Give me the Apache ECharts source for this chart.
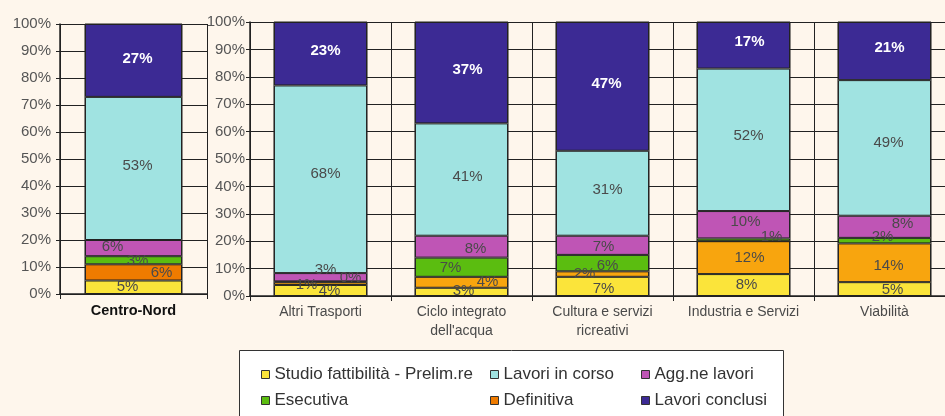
<!DOCTYPE html>
<html>
<head>
<meta charset="UTF-8">
<title>Stato di avanzamento</title>
<script src="https://cdn.jsdelivr.net/npm/echarts@6/dist/echarts.min.js"></script>
<style>
  html, body { margin: 0; padding: 0; background: #fef6ec; }
  #chart { width: 945px; height: 416px; }
</style>
</head>
<body>
<div id="chart"></div>
<script>
// categorie (la prima sta nel pannello di sinistra)
var categoriesLeft = ['Centro-Nord'];
var categoriesRight = ['Altri Trasporti', 'Ciclo integrato\ndell\'acqua', 'Cultura e servizi\nricreativi', 'Industria e Servizi', 'Viabilità'];

var seriesNames = ['Studio fattibilità - Prelim.re', 'Definitiva', 'Esecutiva', 'Agg.ne lavori', 'Lavori in corso', 'Lavori conclusi'];

// valori % (Centro-Nord, Altri Trasporti, Ciclo, Cultura, Industria, Viabilità)
var studio         = [5, 4, 3, 7, 8, 5];
var definitiva     = [6, 1, 4, 2, 12, 14];
var esecutiva      = [3, 0.3, 7, 6, 1, 2];
var aggLavori      = [6, 3, 8, 7, 10, 8];
var lavoriInCorso  = [53, 68, 41, 31, 52, 49];
var lavoriConclusi = [27, 23, 37, 47, 17, 21];

var yTicks = [0, 10, 20, 30, 40, 50, 60, 70, 80, 90, 100];

var raw = [studio, definitiva, esecutiva, aggLavori, lavoriInCorso, lavoriConclusi];

// stile
var colors = ['#fbe43a', '#ef7b00', '#5bbd10', '#bf55b5', '#a0e3e1', '#3c2a94'];
var colorsRight = ['#fbe43a', '#f8a50e', '#5bbd10', '#bf55b5', '#a0e3e1', '#3c2a94'];
// spostamento etichette [dx, dy] come nell'originale
var labelShift = [
  [[-6, 0], [9, 0], [2, -1], [1, 2], [3, 0], [8, 1]],
  [[28, 0], [-14, 1], [26, 0], [-18, 0], [6, 0], [4, 3]],
  [[4, 1], [30, -4], [-11, 1], [5, 3], [28, -3], [-2, -4]],
  [[-21, -1], [5, -7], [14, 2], [1, 2], [2, -3], [18, -3]],
  [[4, -3], [5, -5], [6, -3], [5, -3], [5, -4], [4, -5]],
  [[4, -2], [5, -3], [6, -3], [4, -3], [6, -3], [5, -3]]
];

var totals = studio.map(function (v, i) {
  var s = 0;
  raw.forEach(function (arr) { s += arr[i]; });
  return s;
});

var FONT = 'Liberation Sans';
var txt = '#4a4a4a';
var line = '#222';

function makeData(k, from, to) {
  var out = [];
  for (var i = from; i < to; i++) {
    out.push({
      value: raw[k][i] / totals[i] * 100,
      rawIndex: i,
      label: { offset: labelShift[k][i] }
    });
  }
  return out;
}

var series = [];
[0, 1].forEach(function (g) {
  seriesNames.forEach(function (name, k) {
    var labelStyle = k === 5
      ? { color: '#fff', fontWeight: 'bold', fontSize: 15 }
      : { color: txt, fontSize: 15 };
    var s = {
      name: name,
      type: 'bar',
      stack: g === 0 ? 'L' : 'R',
      xAxisIndex: g,
      yAxisIndex: g,
      barWidth: '66%',
      data: g === 0 ? makeData(k, 0, 1) : makeData(k, 1, 6),
      itemStyle: { color: g === 0 ? colors[k] : colorsRight[k], borderColor: line, borderWidth: 1 },
      label: Object.assign({
        show: true,
        position: 'inside',
        fontFamily: FONT,
        formatter: function (p) {
          return Math.round(raw[k][p.data.rawIndex]) + '%';
        }
      }, labelStyle),
      emphasis: { disabled: true },
      animation: false
    };
    if (k === 0) {
      s.showBackground = true;
      s.backgroundStyle = { color: 'rgba(0,0,0,0)', borderColor: line, borderWidth: 1 };
    }
    series.push(s);
  });
});

function yAxis(g, margin) {
  return {
    type: 'value',
    gridIndex: g,
    min: yTicks[0],
    max: yTicks[yTicks.length - 1],
    interval: 10,
    axisLine: { show: true, lineStyle: { color: line, width: 1.5 } },
    axisTick: { show: true, length: 4, lineStyle: { color: line } },
    axisLabel: { formatter: '{value}%', color: '#555', fontFamily: FONT, fontSize: 15, margin: margin },
    splitLine: { show: true, lineStyle: { color: line, width: 1 } }
  };
}

function xAxis(g, data, labelStyle) {
  return {
    type: 'category',
    gridIndex: g,
    data: data,
    axisLine: { show: true, lineStyle: { color: line, width: 1.5 } },
    axisTick: { show: true, length: 5, interval: 0, lineStyle: { color: line } },
    axisLabel: Object.assign({ interval: 0, fontFamily: FONT, margin: 7, lineHeight: 19 }, labelStyle),
    splitLine: { show: true, interval: 0, lineStyle: { color: line, width: 1 } }
  };
}

var legends = [];
var legendPos = [
  [256, 361], [256, 387],
  [485, 361], [485, 387],
  [636, 361], [636, 387]
];
var legendOrder = [0, 2, 4, 1, 3, 5];
legendOrder.forEach(function (k, j) {
  legends.push({
    data: [seriesNames[k]],
    left: legendPos[j][0],
    top: legendPos[j][1],
    z: 20,
    itemWidth: 8,
    itemHeight: 8,
    icon: 'rect',
    selectedMode: false,
    itemStyle: { color: colors[k], borderColor: '#333', borderWidth: 1 },
    textStyle: { color: '#333', fontFamily: FONT, fontSize: 17 }
  });
});

var option = {
  backgroundColor: '#fef6ec',
  animation: false,
  grid: [
    { left: 60, width: 147, top: 24, bottom: 122, outerBoundsMode: 'none' },
    { left: 250, width: 705, top: 22, bottom: 120, outerBoundsMode: 'none' }
  ],
  xAxis: [
    xAxis(0, categoriesLeft, { color: '#111', fontWeight: 'bold', fontSize: 14.5 }),
    xAxis(1, categoriesRight, { color: txt, fontSize: 14 })
  ],
  yAxis: [yAxis(0, 9), yAxis(1, 5)],
  legend: legends,
  graphic: [{
    type: 'rect',
    shape: { x: 239.5, y: 350.5, width: 544, height: 80 },
    style: { fill: '#fff', stroke: '#333', lineWidth: 1 },
    z: 10
  }],
  series: series
};

var myChart = echarts.init(document.getElementById('chart'));
myChart.setOption(option);
</script>
</body>
</html>
